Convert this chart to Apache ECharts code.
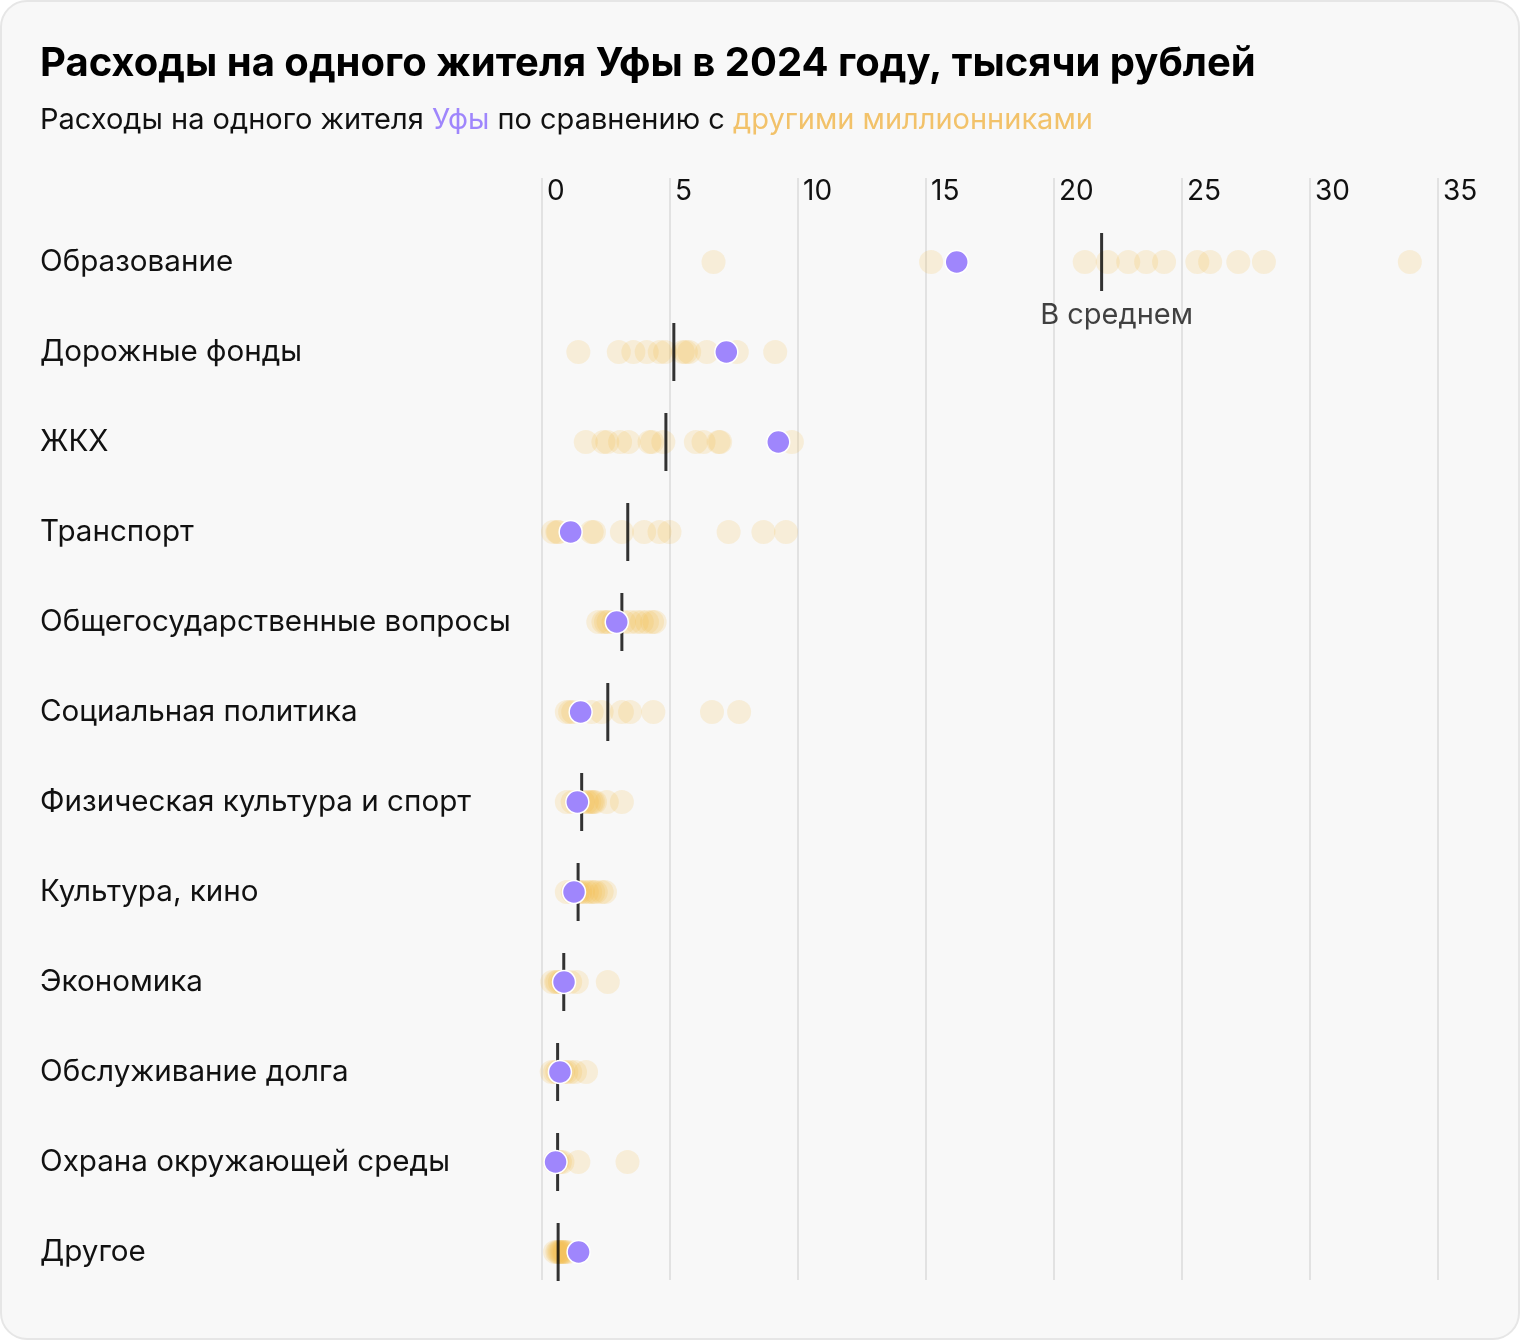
<!DOCTYPE html>
<html>
<head>
<meta charset="utf-8">
<script src="https://cdn.jsdelivr.net/npm/echarts@6/dist/echarts.min.js"></script>
<style>
html,body{margin:0;padding:0;background:#ffffff;}
#chart{width:1520px;height:1340px;}
</style>
</head>
<body>
<div id="chart"></div>
<script>
// ---- data ----
const categories = ['Образование','Дорожные фонды','ЖКХ','Транспорт','Общегосударственные вопросы','Социальная политика','Физическая культура и спорт','Культура, кино','Экономика','Обслуживание долга','Охрана окружающей среды','Другое'];
const ticks = [0, 5, 10, 15, 20, 25, 30, 35];
const ufa = [16.2, 7.2, 9.23, 1.12, 2.92, 1.51, 1.38, 1.25, 0.86, 0.7, 0.53, 1.43];
const average = [21.86, 5.15, 4.84, 3.35, 3.12, 2.57, 1.55, 1.41, 0.85, 0.61, 0.61, 0.63];
const othersEducation = [6.7, 15.2, 21.2, 22.1, 22.9, 23.6, 24.3, 25.6, 26.1, 27.2, 28.2, 33.9];
const othersRoads = [1.42, 3.0, 3.57, 4.09, 4.6, 4.81, 5.5, 5.62, 5.75, 6.44, 7.61, 9.11];
const othersHousing = [1.71, 2.4, 2.55, 3.05, 3.38, 4.2, 4.3, 4.74, 6.01, 6.31, 6.9, 6.96, 9.76];
const othersTransport = [0.43, 0.6, 0.64, 1.94, 2.03, 3.12, 3.99, 4.59, 4.98, 7.29, 8.65, 9.53];
const othersGeneral = [2.2, 2.4, 2.5, 2.6, 2.8, 3.2, 3.45, 3.7, 3.9, 4.1, 4.3, 4.4];
const othersSocial = [0.97, 1.1, 1.22, 1.5, 1.94, 2.33, 3.12, 3.44, 4.35, 6.64, 7.7];
const othersSport = [0.97, 1.2, 1.36, 1.6, 1.75, 1.85, 1.94, 2.0, 2.07, 2.53, 3.12];
const othersCulture = [0.97, 1.2, 1.4, 1.49, 1.6, 1.75, 1.88, 2.0, 2.1, 2.33, 2.46];
const othersEconomy = [0.4, 0.55, 0.6, 0.7, 0.8, 1.1, 1.36, 2.57];
const othersDebt = [0.38, 0.51, 0.6, 0.7, 0.83, 0.95, 1.1, 1.29, 1.72];
const othersEnvironment = [0.5, 0.55, 0.6, 0.7, 0.8, 1.42, 3.34];
const othersOther = [0.51, 0.6, 0.65, 0.7, 0.75, 0.8, 0.85, 0.9, 1.0];
const others = [othersEducation, othersRoads, othersHousing, othersTransport, othersGeneral, othersSocial, othersSport, othersCulture, othersEconomy, othersDebt, othersEnvironment, othersOther];

// ---- build ----
const FONT = 'Inter, "Noto Sans", sans-serif';
const otherData = [];
others.forEach((arr, i) => arr.forEach(v => otherData.push([v, categories[i]])));
const ufaData = ufa.map((v, i) => [v, categories[i]]);
const avgData = average.map((v, i) => [v, categories[i]]);

const chart = echarts.init(document.getElementById('chart'), null, {renderer: 'canvas'});
chart.setOption({
  animation: false,
  backgroundColor: 'transparent',
  graphic: [
    {type: 'rect', z: -10, shape: {x: 1, y: 1, width: 1518, height: 1338, r: 26},
     style: {fill: '#f8f8f8', stroke: '#e6e6e6', lineWidth: 2}, silent: true},
    {type: 'text', left: 40, top: 44, style: {text: 'Расходы на одного жителя Уфы в 2024 году, тысячи рублей',
      font: 'bold 40px ' + FONT, fill: '#000'}},
    {type: 'text', left: 40, top: 106, style: {
      text: '{a|Расходы на одного жителя }{u|Уфы}{a| по сравнению с }{o|другими миллионниками}',
      rich: {
        a: {fontFamily: FONT, fontSize: 29, fill: '#111'},
        u: {fontFamily: FONT, fontSize: 29, fill: '#9f86fc'},
        o: {fontFamily: FONT, fontSize: 29, fill: '#f2c26a'}
      }}}
  ],
  grid: [
    {left: 542, right: 82, top: 178, bottom: 60},
    {left: 542, right: 82, top: 217, bottom: 43}
  ],
  xAxis: [
    {gridIndex: 0, type: 'value', min: 0, max: 35, interval: 5, position: 'top',
     axisLine: {show: false}, axisTick: {show: false},
     splitLine: {show: true, lineStyle: {color: '#e2e2e2', width: 2}},
     axisLabel: {inside: true, align: 'left', verticalAlign: 'middle', margin: 14, padding: [0, 0, 0, 5],
       fontFamily: FONT, fontSize: 28, color: '#111'}},
    {gridIndex: 1, type: 'value', min: 0, max: 35, interval: 5, show: false, splitLine: {show: false}}
  ],
  yAxis: [
    {gridIndex: 0, type: 'value', show: false, splitLine: {show: false}},
    {gridIndex: 1, type: 'category', data: categories, inverse: true,
     axisLine: {show: false}, axisTick: {show: false}, splitLine: {show: false},
     axisLabel: {align: 'left', margin: 502, fontFamily: FONT, fontSize: 29.6, color: '#111'}}
  ],
  series: [
    {type: 'scatter', xAxisIndex: 1, yAxisIndex: 1, data: otherData, symbolSize: 24, z: 2,
     itemStyle: {color: '#f5b73b', opacity: 0.17}},
    {type: 'scatter', xAxisIndex: 1, yAxisIndex: 1, symbol: 'rect', symbolSize: [3, 58], z: 3,
     itemStyle: {color: '#000'},
     data: avgData.map((d, i) => i === 0 ? {value: d, label: {show: true, position: 'bottom', distance: 10,
       offset: [15, 0], formatter: 'В среднем', fontFamily: FONT, fontSize: 29, color: '#111'}} : d)},
    {type: 'scatter', xAxisIndex: 1, yAxisIndex: 1, data: ufaData, symbolSize: 23, z: 4,
     itemStyle: {color: '#9f86fc', borderColor: '#fff', borderWidth: 1.5, opacity: 1}}
  ]
});
</script>
</body>
</html>
